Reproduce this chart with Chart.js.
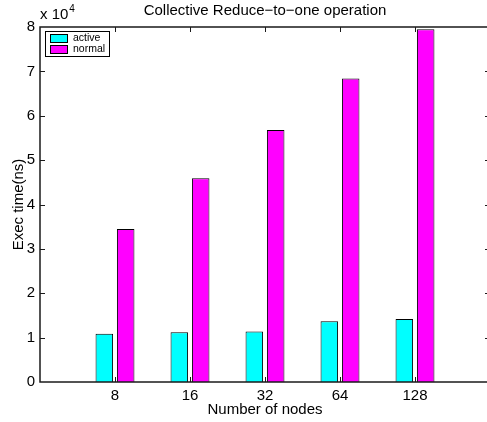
<!DOCTYPE html>
<html>
<head>
<meta charset="utf-8">
<script src="https://cdn.jsdelivr.net/npm/chart.js@4/dist/chart.umd.min.js"></script>
<style>
  html, body { margin: 0; padding: 0; background: #fff; overflow: hidden; }
  #wrap { width: 490px; height: 422px; }
</style>
</head>
<body>
<div id="wrap"><canvas id="chart" width="490" height="422"></canvas></div>
<script>
// categories (empty ends give the blank space left and right like the original axes)
const nodeLabels = ['', '8', '16', '32', '64', '128', ''];
const activeTimes = [null, 10900, 11200, 11400, 13700, 14200, null];
const normalTimes = [null, 34500, 45900, 56800, 68400, 79500, null];
const yTicks = [0, 10000, 20000, 30000, 40000, 50000, 60000, 70000, 80000];

const FONT = 'Liberation Sans, Arial, Helvetica, sans-serif';

// box, inward ticks, exponent label and legend, matlab style
const matlabAxes = {
  id: 'matlabAxes',
  afterDatasetsDraw(chart) {
    const ctx = chart.ctx;
    const a = chart.chartArea;
    const xs = chart.scales.x;
    const ys = chart.scales.y;
    const tl = 5;
    ctx.save();
    ctx.strokeStyle = '#1a1a1a';
    ctx.lineWidth = 1.5;
    ctx.strokeRect(a.left, a.top, a.right - a.left, a.bottom - a.top);

    ctx.lineWidth = 1;
    ctx.beginPath();
    for (let i = 1; i < nodeLabels.length - 1; i++) {
      const px = Math.round(xs.getPixelForValue(i)) + 0.5;
      ctx.moveTo(px, a.bottom); ctx.lineTo(px, a.bottom - tl);
      ctx.moveTo(px, a.top); ctx.lineTo(px, a.top + tl);
    }
    for (let i = 1; i < yTicks.length - 1; i++) {
      const py = Math.round(ys.getPixelForValue(yTicks[i])) + 0.5;
      ctx.moveTo(a.left, py); ctx.lineTo(a.left + tl, py);
      ctx.moveTo(a.right, py); ctx.lineTo(a.right - tl, py);
    }
    ctx.stroke();

    // exponent
    ctx.fillStyle = '#000';
    ctx.textBaseline = 'alphabetic';
    ctx.textAlign = 'left';
    ctx.font = '15px ' + FONT;
    ctx.fillText('x 10', a.left, a.top - 8);
    const w = ctx.measureText('x 10').width;
    ctx.font = '10px ' + FONT;
    ctx.fillText('4', a.left + w + 1, a.top - 15);

    // legend
    const lx = a.left + 5, ly = a.top + 4, lw = 64, lh = 25;
    ctx.fillStyle = '#fff';
    ctx.fillRect(lx, ly, lw, lh);
    ctx.lineWidth = 1;
    ctx.strokeStyle = '#000';
    ctx.strokeRect(lx + 0.5, ly + 0.5, lw, lh);
    ctx.font = '10.5px ' + FONT;
    ctx.textBaseline = 'middle';
    chart.data.datasets.forEach((ds, i) => {
      const ry = ly + 3 + i * 11;
      ctx.fillStyle = ds.backgroundColor;
      ctx.fillRect(lx + 5, ry, 17, 8);
      ctx.strokeRect(lx + 5.5, ry + 0.5, 17, 8);
      ctx.fillStyle = '#000';
      ctx.fillText(ds.label, lx + 28, ry + 4.5);
    });
    ctx.restore();
  }
};

new Chart(document.getElementById('chart'), {
  type: 'bar',
  data: {
    labels: nodeLabels,
    datasets: [
      {
        label: 'active',
        data: activeTimes,
        backgroundColor: '#00ffff',
        borderColor: '#000',
        borderWidth: 1,
        categoryPercentage: 0.57,
        barPercentage: 0.82
      },
      {
        label: 'normal',
        data: normalTimes,
        backgroundColor: '#ff00ff',
        borderColor: '#000',
        borderWidth: 1,
        categoryPercentage: 0.57,
        barPercentage: 0.82
      }
    ]
  },
  options: {
    responsive: false,
    animation: false,
    // canvas is 3px wider than the window: right edge of the box falls outside
    layout: { padding: 0 },
    plugins: {
      legend: { display: false },
      tooltip: { enabled: false },
      title: {
        display: true,
        fullSize: false,
        text: 'Collective Reduce\u2212to\u2212one operation',
        color: '#000',
        font: { family: FONT, size: 15, weight: 'normal', lineHeight: 1.2 },
        padding: { top: 2, bottom: 7 }
      }
    },
    scales: {
      x: {
        offset: false,
        grid: { display: false, drawTicks: false },
        border: { display: false },
        ticks: {
          color: '#000',
          padding: 5,
          autoSkip: false,
          maxRotation: 0,
          font: { family: FONT, size: 15 }
        },
        title: {
          display: true,
          text: 'Number of nodes',
          color: '#000',
          font: { family: FONT, size: 15 },
          padding: { top: 0, bottom: 3 }
        },
        afterFit(scale) {
          scale.height = 40;
          scale.paddingLeft = 0;
          scale.paddingRight = 0;
        }
      },
      y: {
        min: 0,
        max: 80000,
        grid: { display: false, drawTicks: false },
        border: { display: false },
        afterBuildTicks(scale) { scale.ticks = yTicks.map(v => ({ value: v })); },
        ticks: {
          color: '#000',
          padding: 5,
          font: { family: FONT, size: 15 },
          callback: v => v / 10000
        },
        title: {
          display: true,
          text: 'Exec time(ns)',
          color: '#000',
          font: { family: FONT, size: 15 },
          padding: { top: 10 }
        },
        afterFit(scale) { scale.width = 40; }
      }
    }
  },
  plugins: [matlabAxes]
});
</script>
</body>
</html>
